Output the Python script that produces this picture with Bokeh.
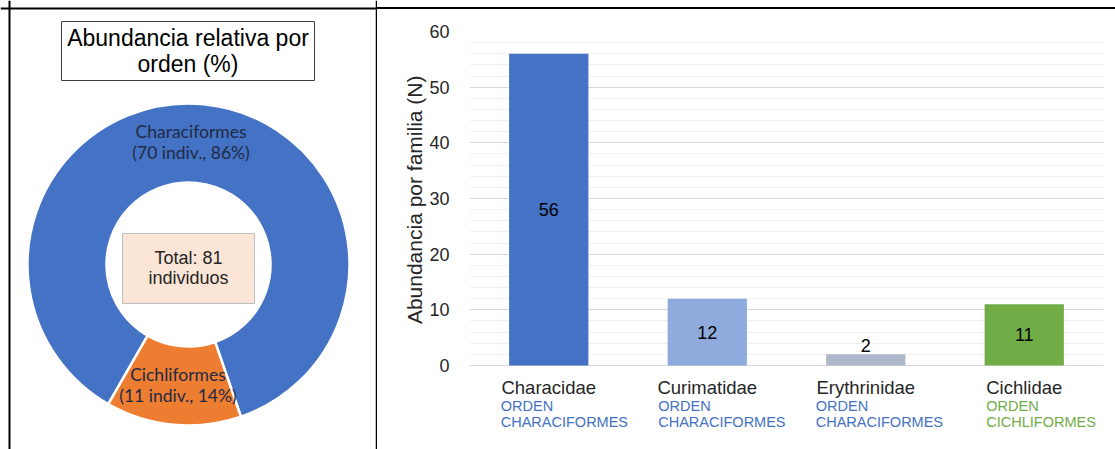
import math

from bokeh.core.properties import value
from bokeh.core.templates import FILE
from bokeh.embed import file_html
from bokeh.models import ColumnDataSource, FixedTicker, Range1d, Span, Title
from bokeh.plotting import figure
from bokeh.resources import INLINE

# ---- data -------------------------------------------------------------
orders = ["Characiformes", "Cichliformes"]
order_counts = [70, 11]
order_colors = ["#4472C4", "#ED7D31"]

families = ["Characidae", "Curimatidae", "Erythrinidae", "Cichlidae"]
family_order = ["CHARACIFORMES", "CHARACIFORMES", "CHARACIFORMES", "CICHLIFORMES"]
family_counts = [56, 12, 2, 11]
family_colors = ["#4472C4", "#8FAADC", "#ADB9CA", "#70AD47"]
order_text_colors = ["#4472C4", "#4472C4", "#4472C4", "#70AD47"]

y_ticks = [0, 10, 20, 30, 40, 50, 60]

SANS = value("Liberation Sans")
LABEL_FONT = value("Lato")
TEXT = "#262626"

# ---- left panel: doughnut of relative abundance by order ---------------
W_L, H = 377, 449
left = figure(width=W_L, height=H, x_range=Range1d(0, W_L), y_range=Range1d(0, H),
              x_axis_type=None, y_axis_type=None, output_backend="svg",
              toolbar_location=None, min_border=0, outline_line_color=None)
left.grid.visible = False

cx, cy = 188, 185
r_in, r_out = 82, 161
total = sum(order_counts)
start0 = math.radians(-71)
starts, ends, mids = [], [], []
acc = start0
for c in order_counts:
    span = 2 * math.pi * c / total
    starts.append(acc)
    ends.append(acc + span)
    mids.append(acc + span / 2)
    acc += span

donut = ColumnDataSource(dict(order=orders, count=order_counts, color=order_colors,
                              start=starts, end=ends))
left.annular_wedge(x=cx, y=cy, inner_radius=r_in, outer_radius=r_out,
                   start_angle="start", end_angle="end", direction="anticlock",
                   fill_color="color", line_color="white", line_width=2.5,
                   source=donut)

r_mid = (r_in + r_out) / 2
lab_x = [cx + r_mid * math.cos(a) for a in mids]
lab_y = [cy + r_mid * math.sin(a) for a in mids]
lab_txt = [f"{o}\n({c} indiv., {round(100 * c / total)}%)"
           for o, c in zip(orders, order_counts)]
left.text(x=lab_x, y=lab_y, text=lab_txt, x_offset=[-9, 1], y_offset=[-2, 0],
          text_align="center", text_baseline="middle", text_font=LABEL_FONT,
          text_font_size="17.5px", text_color="#1F2A44", text_line_height=1.0)

# title box
left.rect(x=187.5, y=398.5, width=253, height=59, fill_color="white",
          line_color="#3F3F3F", line_width=1)
left.text(x=[187.5], y=[398.5], text=["Abundancia relativa por\norden (%)"],
          text_align="center", text_baseline="middle", text_font=SANS,
          text_font_size="23px", text_color="black", text_line_height=1.0)

# centre box with the total
left.rect(x=188, y=181, width=132, height=70, fill_color="#FBE5D6",
          line_color="#BFBFBF", line_width=1)
left.text(x=[188], y=[181.5], text=[f"Total: {total}\nindividuos"],
          text_align="center", text_baseline="middle", text_font=SANS,
          text_font_size="18px", text_color=TEXT, text_line_height=1.0)

# panel frame
left.add_layout(Span(location=9, dimension="height", line_color="black", line_width=2))
left.add_layout(Span(location=H - 8, dimension="width", line_color="black", line_width=2))
left.add_layout(Span(location=W_L - 1, dimension="height", line_color="black", line_width=1.5))

# ---- right panel: abundance per family ----------------------------------
# the frame runs down to the bottom edge so the category labels fit inside it
W_R = 1115 - W_L
PLOT_TOP, PLOT_ZERO = 31, 365
y_max = 60
y_min = -(H - PLOT_ZERO) * y_max / (PLOT_ZERO - PLOT_TOP)
xs = list(range(len(families)))
right = figure(width=W_R, height=H, x_range=Range1d(-0.5, len(families) - 0.5),
               y_range=Range1d(y_min, y_max), x_axis_type=None, output_backend="svg",
               toolbar_location=None, min_border_left=92, min_border_right=12,
               min_border_top=PLOT_TOP, min_border_bottom=0, outline_line_color=None)

ticker = FixedTicker(ticks=y_ticks, minor_ticks=list(range(0, 61, 2)))
right.yaxis.ticker = ticker
right.ygrid.ticker = ticker
right.xgrid.visible = False
right.ygrid.grid_line_color = "#D9D9D9"
right.ygrid.minor_grid_line_color = "#F0F0F0"
right.ygrid.level = "underlay"

ax = right.yaxis[0]
ax.bounds = (0, y_max)
ax.axis_line_color = None
ax.major_tick_line_color = None
ax.minor_tick_line_color = None
ax.major_label_text_font = "Liberation Sans"
ax.major_label_text_font_size = "18px"
ax.major_label_text_color = TEXT
ax.major_label_standoff = 14

# axis title, centred on the 0-60 span rather than on the whole frame
right.add_layout(Title(text="Abundancia por familia (N)", align="right", offset=44,
                       text_font="Liberation Sans", text_font_size="21px",
                       text_font_style="normal", text_color=TEXT, standoff=2),
                 "left")

bars = ColumnDataSource(dict(x=xs, top=family_counts, color=family_colors))
right.vbar(x="x", top="top", width=0.5, fill_color="color", line_color=None,
           source=bars)

# value labels: centred inside tall bars, just above short ones
vals = ColumnDataSource(dict(
    x=xs,
    y=[v / 2 if v >= 5 else v for v in family_counts],
    t=[str(v) for v in family_counts],
    base=["middle" if v >= 5 else "bottom" for v in family_counts],
    dy=[0 if v >= 5 else -2 for v in family_counts],
))
right.text(x="x", y="y", text="t", text_baseline="base", y_offset="dy",
           text_align="center", text_font=SANS, text_font_size="18px",
           text_color="black", source=vals)

# category labels: family name with its order underneath
cats = ColumnDataSource(dict(
    x=xs,
    y=[0] * len(xs),
    fam=families,
    ordn=[f"ORDEN\n{o}" for o in family_order],
    col=order_text_colors,
    dx=[-48, -49, -50, -38],
))
right.text(x="x", y="y", text="fam", y_offset=22, text_align="center",
           text_baseline="middle", text_font=SANS, text_font_size="18.5px",
           text_color=TEXT, source=cats)
right.text(x="x", y="y", text="ordn", x_offset="dx", y_offset=32, text_align="left",
           text_baseline="top", text_font=SANS, text_font_size="14.5px",
           text_color="col", text_line_height=1.0, source=cats)

# page: the two panels side by side, with the top edge of the right panel frame
page = FILE.environment.from_string(
    "{% extends base %}"
    "{% block postamble %}<style>"
    "body{display:flex !important;align-items:flex-start;margin:0;}"
    "body::after{content:'';position:absolute;left:377px;top:7px;"
    "width:738px;height:2px;background:#000;}"
    "</style>{% endblock %}"
)
html = file_html([left, right], INLINE, template=page,
                 template_variables={"base": FILE})
open("out.html", "w").write(html)
